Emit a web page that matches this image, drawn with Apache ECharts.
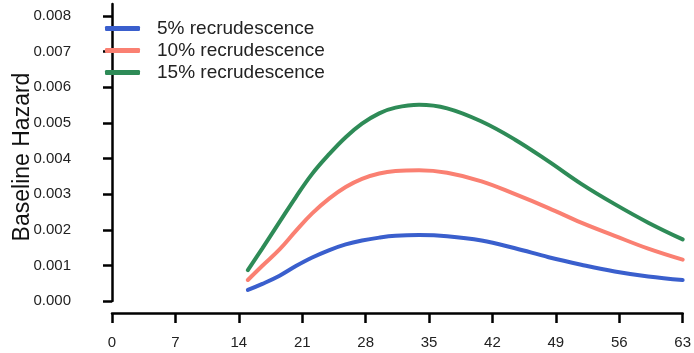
<!DOCTYPE html>
<html>
<head>
<meta charset="utf-8">
<script src="https://cdn.jsdelivr.net/npm/echarts@6/dist/echarts.min.js"></script>
<style>
html,body{margin:0;padding:0;background:#fff;}
#chart{width:694px;height:353px;}
</style>
</head>
<body>
<div id="chart"></div>
<script>
const days = [15, 16.6, 18.5, 20.3, 22.1, 24, 25.8, 27.6, 29.5, 31.3, 33.9, 37, 40.8, 44.5, 48.2, 51.8, 55.5, 59.2, 63];
const blue5 = [0.00031, 0.00048, 0.00071, 0.00098, 0.00122, 0.00143, 0.00159, 0.0017, 0.00178, 0.00183, 0.00185, 0.00182, 0.0017, 0.00148, 0.00123, 0.00102, 0.00083, 0.00069, 0.00059];
const salmon10 = [0.00059, 0.00099, 0.00145, 0.00197, 0.00246, 0.00288, 0.0032, 0.00343, 0.00358, 0.00365, 0.00367, 0.0036, 0.00336, 0.003, 0.00261, 0.0022, 0.00183, 0.00147, 0.00116];
const green15 = [0.00087, 0.00148, 0.00222, 0.00292, 0.00357, 0.00413, 0.0046, 0.00498, 0.00527, 0.00543, 0.00551, 0.00541, 0.00504, 0.00453, 0.00392, 0.00329, 0.00272, 0.0022, 0.00173];
const seriesNames = ['5% recrudescence', '10% recrudescence', '15% recrudescence'];
const xTicks = [0, 7, 14, 21, 28, 35, 42, 49, 56, 63];
const yTicks = [0, 0.001, 0.002, 0.003, 0.004, 0.005, 0.006, 0.007, 0.008];
const yTitle = 'Baseline Hazard';

const colors = ['#3a5fcd', '#fa8072', '#2e8b57'];
const FONT = 'Liberation Sans, Arial, sans-serif';

function pairs(vals) { return days.map((d, i) => [d, vals[i]]); }
const allVals = [blue5, salmon10, green15];

const chart = echarts.init(document.getElementById('chart'), null, {renderer: 'canvas'});
chart.setOption({
  animation: false,
  backgroundColor: '#ffffff',
  grid: {left: 112, right: 9, top: 4, bottom: 52, containLabel: false},
  legend: {
    orient: 'vertical',
    left: 105,
    top: 19,
    padding: 0,
    icon: 'roundRect',
    itemWidth: 35,
    itemHeight: 5,
    itemGap: 3,
    textStyle: {fontFamily: FONT, fontSize: 19, color: '#222', padding: [0, 0, 0, 12]},
    data: seriesNames
  },
  xAxis: {
    type: 'value',
    min: 0, max: 63, interval: 7,
    offset: 12,
    splitLine: {show: false},
    axisLine: {show: true, onZero: false, lineStyle: {color: '#000', width: 2.5}},
    axisTick: {show: true, length: 10, lineStyle: {color: '#000', width: 2.5}, customValues: xTicks},
    axisLabel: {fontFamily: FONT, fontSize: 15, color: '#222', margin: 22, customValues: xTicks}
  },
  yAxis: {
    type: 'value',
    min: 0, max: 0.00834,
    offset: 23,
    splitLine: {show: false},
    axisLine: {show: true, lineStyle: {color: '#000', width: 2.5}},
    axisTick: {show: true, length: 9, lineStyle: {color: '#000', width: 2.5}, customValues: yTicks},
    axisLabel: {fontFamily: FONT, fontSize: 15, color: '#222', margin: 18, customValues: yTicks,
      formatter: v => v.toFixed(3)}
  },
  graphic: [{
    type: 'text',
    x: 23, y: 157,
    rotation: Math.PI / 2,
    style: {text: yTitle, fontFamily: FONT, fontSize: 23, fill: '#111', align: 'center', verticalAlign: 'middle'}
  }],
  series: seriesNames.map((n, i) => ({
    name: n,
    type: 'line',
    data: pairs(allVals[i]),
    smooth: 0.4,
    symbol: 'none',
    color: colors[i],
    lineStyle: {color: colors[i], width: 4, cap: 'round'}
  }))
});
</script>
</body>
</html>
